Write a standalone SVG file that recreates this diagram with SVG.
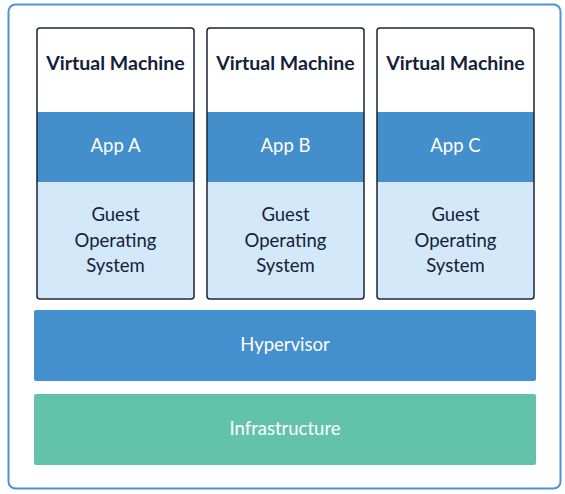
<svg xmlns="http://www.w3.org/2000/svg" width="565" height="494" viewBox="0 0 565 494">
<style>
.vmt{font-family:"Lato","Liberation Sans",sans-serif;font-weight:700;font-size:19.5px;fill:#14203a;text-anchor:middle}
.wt{font-family:"Lato","Liberation Sans",sans-serif;font-size:18.5px;fill:#ffffff;text-anchor:middle}
.gt{font-family:"Lato","Liberation Sans",sans-serif;font-size:18.5px;fill:#14203a;text-anchor:middle}
.app{fill:#438fcc}
.os{fill:#d3e8f8}
.vmb{fill:none;stroke:#1b2338;stroke-width:1.5}
</style>
<rect x="8.5" y="4.5" width="552" height="484" rx="7" fill="#ffffff" stroke="#4d93d6" stroke-width="2"/>
<g id="vm-a">
<rect x="37" y="28" width="157" height="271" rx="3" fill="#ffffff"/>
<rect class="app" x="37" y="112" width="157" height="70"/>
<rect class="os" x="37" y="182" width="157" height="116"/>
<rect class="vmb" x="37" y="28" width="157" height="271" rx="3"/>
<text class="vmt" x="115.5" y="70">Virtual Machine</text>
<text class="wt" x="115.5" y="152">App A</text>
<text class="gt" x="115.5" y="221">Guest</text>
<text class="gt" x="115.5" y="247">Operating</text>
<text class="gt" x="115.5" y="272">System</text>
</g>
<g id="vm-b">
<rect x="207" y="28" width="157" height="271" rx="3" fill="#ffffff"/>
<rect class="app" x="207" y="112" width="157" height="70"/>
<rect class="os" x="207" y="182" width="157" height="116"/>
<rect class="vmb" x="207" y="28" width="157" height="271" rx="3"/>
<text class="vmt" x="285.5" y="70">Virtual Machine</text>
<text class="wt" x="285.5" y="152">App B</text>
<text class="gt" x="285.5" y="221">Guest</text>
<text class="gt" x="285.5" y="247">Operating</text>
<text class="gt" x="285.5" y="272">System</text>
</g>
<g id="vm-c">
<rect x="377" y="28" width="157" height="271" rx="3" fill="#ffffff"/>
<rect class="app" x="377" y="112" width="157" height="70"/>
<rect class="os" x="377" y="182" width="157" height="116"/>
<rect class="vmb" x="377" y="28" width="157" height="271" rx="3"/>
<text class="vmt" x="455.5" y="70">Virtual Machine</text>
<text class="wt" x="455.5" y="152">App C</text>
<text class="gt" x="455.5" y="221">Guest</text>
<text class="gt" x="455.5" y="247">Operating</text>
<text class="gt" x="455.5" y="272">System</text>
</g>
<g id="hypervisor">
<rect x="34" y="310" width="502" height="71" rx="2" fill="#448fcd"/>
<text class="wt" x="285" y="351">Hypervisor</text>
</g>
<g id="infrastructure">
<rect x="34" y="394" width="502" height="71" rx="2" fill="#63c3aa"/>
<text class="wt" x="285" y="435">Infrastructure</text>
</g>
<g id="connectors"/>
</svg>
